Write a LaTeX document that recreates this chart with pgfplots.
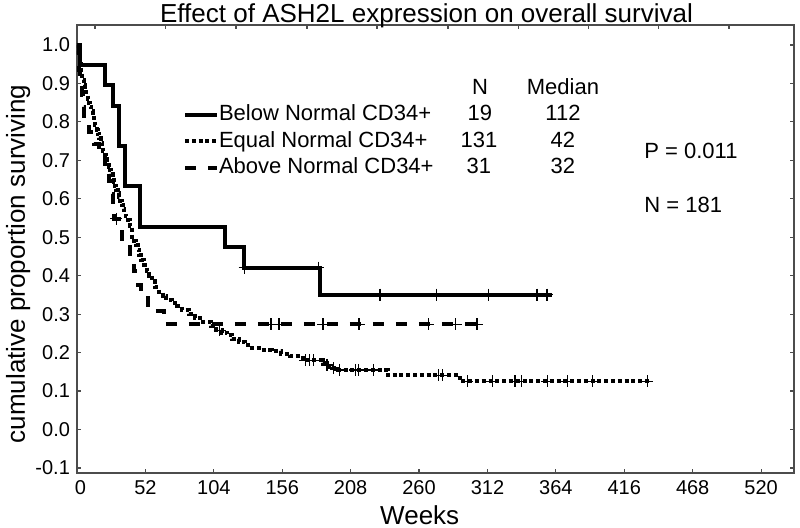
\documentclass[border=0pt]{standalone}
\usepackage{pgfplots}
\pgfplotsset{compat=1.18}
\usepackage{fontspec}
\setmainfont{Liberation Sans}
\begin{document}
\begin{tikzpicture}
\path[use as bounding box] (0,0) rectangle (400pt,264pt);
\begin{axis}[
  at={(38.5pt,27.5pt)}, anchor=south west,
  scale only axis, width=358.5pt, height=224pt,
  xmin=0, xmax=545, ymin=-0.113, ymax=1.052,
  xtick={0,52,104,156,208,260,312,364,416,468,520},
  xticklabels={\hspace*{3.5pt}0,52,104,156,208,260,312,364,416,468,520},
  ytick={-0.1,0,0.1,0.2,0.3,0.4,0.5,0.6,0.7,0.8,0.9,1.0},
  yticklabel style={/pgf/number format/.cd, fixed, fixed zerofill, precision=1},
  /pgf/number format/assume math mode=true,
  tick label style={font=\fontsize{10}{12}\selectfont},
  tick align=inside, major tick length=2pt,
  xtick pos=left,
  tick style={draw=black!70, line width=0.6pt},
  axis line style={draw=black!70, line width=0.8pt},
  xlabel={Weeks}, ylabel={cumulative proportion surviving},
  label style={font=\fontsize{13}{15}\selectfont},
  xlabel style={at={(axis description cs:0.478,-0.094)}, anchor=center},
  ylabel style={at={(axis description cs:-0.082,0.4665)}, anchor=center, rotate=0},
  title={Effect of ASH2L expression on overall survival},
  title style={at={(axis description cs:0.4875,1)}, anchor=base, yshift=-5pt, inner sep=0pt, font=\fontsize{13}{15}\selectfont},
  legend style={at={(axis cs:80.6,0.844)}, anchor=north west, draw=none, fill=none,
    inner sep=0pt, outer sep=0pt, column sep=0pt, row sep=3.25pt,
    font=\fontsize{11}{13}\selectfont,
    nodes={inner sep=0pt, text height=8pt, text depth=2pt}},
  legend cell align=left,
  legend image code/.code={\draw[#1] (0pt,0pt) -- (16pt,0pt);},
]
% Below Normal CD34+
\addplot[const plot, black, line width=2pt] coordinates {
(0,1)(2.3,0.947)(21.3,0.895)(27.4,0.842)(31.9,0.737)(36.5,0.632)(47.9,0.526)
(112.5,0.474)(127,0.421)(184.8,0.351)(361,0.351)};
\addlegendentry{Below Normal CD34+}
% Equal Normal CD34+
\addplot[const plot, black, line width=2pt, dash pattern=on 2pt off 1.4pt] coordinates {
(0,1)(0.5,0.985)(1,0.97)(2,0.95)(3,0.93)(4,0.91)(5,0.895)(6,0.883)(7,0.871)(8,0.86)(9,0.85)
(10,0.84)(11,0.828)(12,0.816)(13,0.804)(14,0.792)(15,0.78)(16,0.768)(17,0.757)(18,0.746)
(19,0.735)(20,0.725)(21,0.714)(22,0.704)(23,0.694)(24,0.684)(25,0.674)(26,0.664)(27,0.654)
(28,0.644)(29,0.634)(30,0.624)(31,0.614)(32,0.604)(33,0.594)(34,0.584)(35,0.574)(36,0.564)
(37,0.554)(39,0.545)(40.5,0.53)(42,0.50)(43.5,0.49)(45,0.48)(46,0.468)(47.5,0.455)(49,0.44)
(51,0.428)(53,0.413)(55,0.40)(57,0.385)(59.5,0.37)(62,0.358)(65,0.347)(68,0.338)(72,0.33)
(76,0.32)(80,0.31)(85,0.30)(90,0.29)(96,0.28)(102,0.27)(106,0.26)(110,0.252)(114,0.245)
(118,0.235)(123,0.227)(128,0.22)(133,0.213)(140,0.207)(148,0.203)(155,0.197)(162,0.19)
(168,0.185)(172,0.18)(187,0.172)(190,0.165)(194,0.16)(198.5,0.155)(236.5,0.141)(291,0.125)(436,0.125)};
\addlegendentry{Equal Normal CD34+}
% Above Normal CD34+
\addplot[const plot, black, line width=2pt, dash pattern=on 5.5pt off 6pt] coordinates {
(0,1)(0.5,0.968)(1.5,0.935)(2.5,0.903)(3.5,0.871)(4.5,0.839)(5.5,0.806)(9,0.774)(13,0.742)
(17,0.710)(21,0.677)(24,0.645)(26,0.613)(27.5,0.581)(28.5,0.548)(32,0.514)(34,0.479)(40,0.445)
(43,0.411)(46,0.377)(49,0.343)(54,0.308)(66,0.274)(304,0.274)};
\addlegendentry{Above Normal CD34+}
% censor marks
\addplot[forget plot, only marks, mark=+, mark size=3pt, mark options={solid, line width=0.6pt}] coordinates {
(127.5,0.421)(183.3,0.421)(230.3,0.351)(273,0.351)(313,0.351)(349.7,0.351)(357.3,0.351)};
\addplot[forget plot, only marks, mark=+, mark size=3pt, mark options={solid, line width=0.6pt}] coordinates {
(108.5,0.258)(173.5,0.18)(176.5,0.18)(180,0.18)(190,0.168)(194.7,0.16)(199.5,0.155)(211.6,0.155)
(214,0.155)(225.5,0.155)(275,0.141)(277.6,0.141)(296.6,0.125)(315.6,0.125)(333,0.125)(337.6,0.125)
(357.4,0.125)(372.6,0.125)(391.6,0.125)(433.5,0.125)};
\addplot[forget plot, only marks, mark=+, mark size=3pt, mark options={solid, line width=0.6pt}] coordinates {
(30,0.548)(147.5,0.274)(153.6,0.274)(187,0.274)(214.4,0.274)(267,0.274)(288,0.274)(304,0.274)};
% table text
\begin{scope}[font=\fontsize{11}{13}\selectfont]
\node at (axis cs:306.3,0.891) {N};
\node at (axis cs:369.4,0.891) {Median};
\node at (axis cs:306.3,0.823) {19};
\node at (axis cs:305.5,0.753) {131};
\node at (axis cs:305.5,0.685) {31};
\node at (axis cs:369.4,0.823) {112};
\node at (axis cs:369.4,0.753) {42};
\node at (axis cs:369.4,0.685) {32};
\node[anchor=west, inner sep=0pt] at (axis cs:431,0.724) {P = 0.011};
\node[anchor=west, inner sep=0pt] at (axis cs:431,0.584) {N = 181};
\end{scope}
\end{axis}
\begin{axis}[
  at={(38.5pt,27.5pt)}, anchor=south west,
  scale only axis, width=358.5pt, height=224pt,
  xmin=0, xmax=545, ymin=-0.113, ymax=1.052,
  axis line style={draw=none},
  xtick pos=right, tick align=inside, major tick length=2pt,
  tick style={draw=black!70, line width=0.6pt},
  xtick={13.7,67,120.9,174.8,228,282,335.3,389,442.3,495.6},
  xticklabels={}, ytick=\empty,
]
\end{axis}
\end{tikzpicture}
\end{document}
